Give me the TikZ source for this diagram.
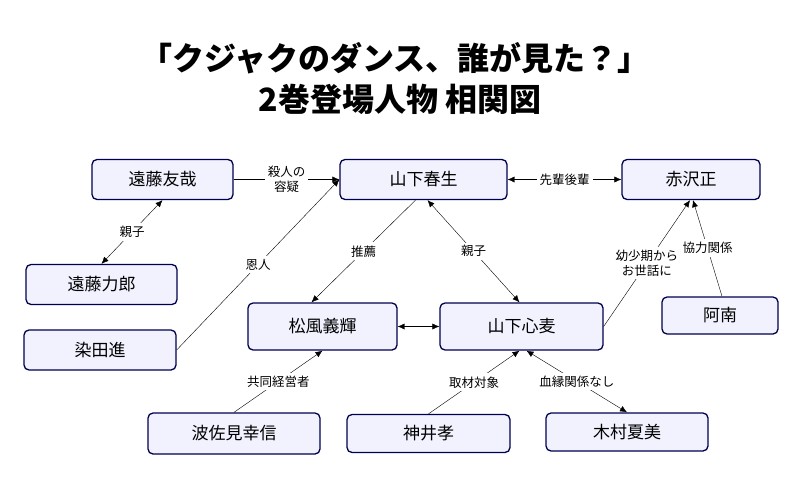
\documentclass[tikz,border=0pt]{standalone}
\usepackage{fontspec}
\setmainfont{Noto Sans CJK JP}
\usetikzlibrary{positioning,arrows.meta}
\tikzset{
  person/.style={rectangle, rounded corners=5pt, draw=black!30!blue!45!black, fill=blue!5, line width=1.3pt, font=\fontsize{17}{19}\selectfont, inner sep=0pt},
  rel/.style={-{Latex[length=7pt,width=6pt]}, thin},
  both/.style={{Latex[length=7pt,width=6pt]}-{Latex[length=7pt,width=6pt]}, thin},
  lbl/.style={fill=white, font=\fontsize{12.5}{14.5}\selectfont, align=center, inner sep=3pt},
}
\begin{document}
\begin{tikzpicture}[x=1pt,y=-1pt]
  \useasboundingbox (0,0) rectangle (800,500);
  \node[font=\bfseries\fontsize{32}{36}\selectfont] (title1) at (395,58) {「クジャクのダンス、誰が見た？」};
  \node[font=\bfseries\fontsize{32}{36}\selectfont] (title2) at (400,99) {2巻登場人物 相関図};

  \node[person, minimum width=141pt, minimum height=40pt] (tomoya) at (162.5,179.5) {遠藤友哉};
  \node[person, minimum width=167pt, minimum height=40pt] (haruo) at (423.5,179.5) {山下春生};
  \node[person, minimum width=138pt, minimum height=40pt] (akazawa) at (691,179.5) {赤沢正};
  \node[person, minimum width=151pt, minimum height=40pt] (rikiro) at (101.5,284.5) {遠藤力郎};
  \node[person, minimum width=152pt, minimum height=40pt] (someda) at (100,350) {染田進};
  \node[person, minimum width=149pt, minimum height=47pt] (matsukaze) at (322.5,326.5) {松風義輝};
  \node[person, minimum width=163pt, minimum height=47pt] (kokomu) at (521.5,326.5) {山下心麦};
  \node[person, minimum width=116pt, minimum height=37pt] (anan) at (720,315.5) {阿南};
  \node[person, minimum width=172pt, minimum height=41pt] (hasami) at (234,433.5) {波佐見幸信};
  \node[person, minimum width=163pt, minimum height=38pt] (kamii) at (428.5,433.5) {神井孝};
  \node[person, minimum width=162pt, minimum height=38pt] (kimura) at (627,432) {木村夏美};

  \draw[rel] (tomoya) -- node[lbl] {殺人の\\容疑} (haruo);
  \draw[both] (haruo) -- node[lbl] {先輩後輩} (akazawa);
  \draw[both] (tomoya.south) -- node[lbl] {親子} (rikiro.north);
  \draw[rel] (someda.east) -- node[lbl] {恩人} (haruo.west);
  \draw[rel] ([xshift=-8pt]haruo.south) -- node[lbl] {推薦} ([xshift=-11pt]matsukaze.north);
  \draw[both] ([xshift=4pt]haruo.south) -- node[lbl] {親子} ([xshift=-2pt]kokomu.north);
  \draw[both] (matsukaze) -- (kokomu);
  \draw[rel] (kokomu.east) -- node[lbl] {幼少期から\\お世話に} ([xshift=-1pt]akazawa.south);
  \draw[rel] ([xshift=2pt]anan.north) -- node[lbl] {協力関係} ([xshift=2pt]akazawa.south);
  \draw[rel] (hasami.north) -- node[lbl] {共同経営者} (matsukaze.south);
  \draw[rel] (kamii.north) -- node[lbl] {取材対象} ([xshift=-2pt]kokomu.south);
  \draw[both] ([xshift=5pt]kokomu.south) -- node[lbl] {血縁関係なし} (kimura.north);
\end{tikzpicture}
\end{document}
